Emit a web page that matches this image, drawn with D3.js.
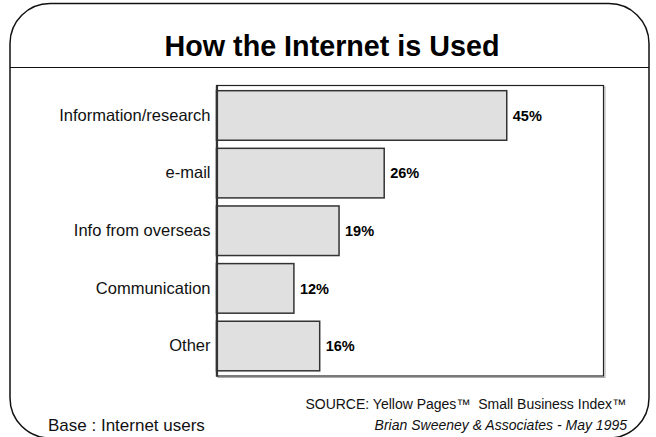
<!DOCTYPE html>
<html>
<head>
<meta charset="utf-8">
<script src="https://cdn.jsdelivr.net/npm/d3@7/dist/d3.min.js"></script>
<style>
  html, body { margin: 0; padding: 0; background: #fff; }
  svg { display: block; font-family: "Liberation Sans", Arial, sans-serif; }
</style>
</head>
<body>
<svg id="chart" width="656" height="437"></svg>
<script>
// Survey data: share of internet users by primary use
const categories = ["Information/research", "e-mail", "Info from overseas", "Communication", "Other"];
const values = [45, 26, 19, 12, 16];
const valueLabels = ["45%", "26%", "19%", "12%", "16%"];

const titleText = "How the Internet is Used";
const baseText = "Base : Internet users";
const sourceText = "SOURCE: Yellow Pages\u2122\u00a0\u00a0Small Business Index\u2122";
const creditText = "Brian Sweeney & Associates - May 1995";

const svg = d3.select("#chart");

// Rounded outer panel
svg.append("rect")
  .attr("x", 10).attr("y", 3.5)
  .attr("width", 639).attr("height", 434.5)
  .attr("rx", 40).attr("ry", 40)
  .attr("fill", "#fff").attr("stroke", "#111").attr("stroke-width", 1.5);

// Title band
svg.append("text")
  .attr("x", 332).attr("y", 56)
  .attr("text-anchor", "middle")
  .attr("font-size", 30).attr("font-weight", "bold")
  .attr("textLength", 335).attr("lengthAdjust", "spacingAndGlyphs")
  .attr("fill", "#000")
  .text(titleText);

svg.append("line")
  .attr("x1", 10).attr("x2", 649)
  .attr("y1", 67.5).attr("y2", 67.5)
  .attr("stroke", "#111").attr("stroke-width", 1.2);

// Plot area
const plot = { left: 216.5, right: 603.5, top: 85.5, bottom: 376 };

const x = d3.scaleLinear().domain([0, 60]).range([plot.left, plot.right]);
const y = d3.scaleBand().domain(categories)
  .range([plot.top, plot.bottom])
  .paddingInner(0.14).paddingOuter(0.09);

// Frame with a faint drop shadow
svg.append("rect")
  .attr("x", plot.left + 1.5).attr("y", plot.top + 1.5)
  .attr("width", plot.right - plot.left).attr("height", plot.bottom - plot.top)
  .attr("fill", "none").attr("stroke", "#aaa").attr("stroke-width", 1);
svg.append("rect")
  .attr("x", plot.left).attr("y", plot.top)
  .attr("width", plot.right - plot.left).attr("height", plot.bottom - plot.top)
  .attr("fill", "#fff").attr("stroke", "#222").attr("stroke-width", 1.2);

// Bars
svg.append("g").selectAll("rect")
  .data(values)
  .join("rect")
  .attr("x", x(0))
  .attr("y", (d, i) => y(categories[i]))
  .attr("width", d => x(d) - x(0))
  .attr("height", y.bandwidth())
  .attr("fill", "#e0e0e0")
  .attr("stroke", "#333").attr("stroke-width", 1.5);

// Category axis (left)
const yAxis = d3.axisLeft(y).tickSize(0).tickPadding(6);
const ga = svg.append("g")
  .attr("transform", `translate(${plot.left},0)`)
  .call(yAxis);
ga.select(".domain").attr("stroke", "#333").attr("stroke-width", 2.2);
ga.selectAll("text")
  .attr("font-family", "Liberation Sans, Arial, sans-serif")
  .attr("font-size", 16.5).attr("fill", "#111");

// Value labels
svg.append("g").selectAll("text")
  .data(values)
  .join("text")
  .attr("x", d => x(d) + 6)
  .attr("y", (d, i) => y(categories[i]) + y.bandwidth() / 2)
  .attr("dy", "0.36em")
  .attr("font-size", 14.5).attr("font-weight", "bold")
  .attr("fill", "#000")
  .text((d, i) => valueLabels[i]);

// Footer notes
svg.append("text")
  .attr("x", 48).attr("y", 431)
  .attr("font-size", 17).attr("fill", "#111")
  .text(baseText);

svg.append("text")
  .attr("x", 626).attr("y", 409)
  .attr("text-anchor", "end")
  .attr("font-size", 14).attr("fill", "#111")
  .text(sourceText);

svg.append("text")
  .attr("x", 627).attr("y", 430)
  .attr("text-anchor", "end")
  .attr("font-size", 14).attr("font-style", "italic").attr("fill", "#111")
  .text(creditText);
</script>
</body>
</html>
